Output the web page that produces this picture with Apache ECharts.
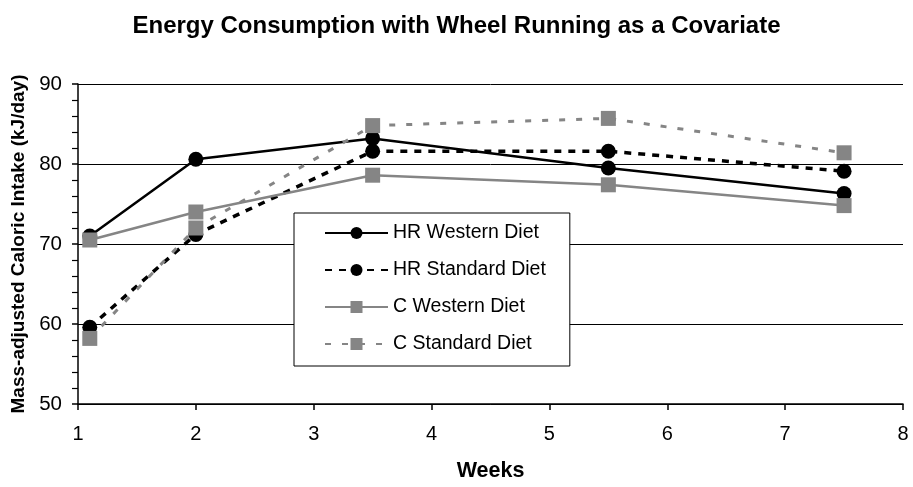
<!DOCTYPE html>
<html>
<head>
<meta charset="utf-8">
<script src="https://cdn.jsdelivr.net/npm/echarts@6/dist/echarts.min.js"></script>
<style>
  html, body { margin: 0; padding: 0; background: #fff; }
  #chart { width: 913px; height: 487px; }
</style>
</head>
<body>
<div id="chart"></div>
<script>
// weeks at which intake was measured
var weeks = [1.1, 2, 3.5, 5.5, 7.5]
var hrWestern = [71.0, 80.6, 83.2, 79.5, 76.3]
var hrStandard = [59.6, 71.2, 81.6, 81.6, 79.1]
var cWestern = [70.5, 74.0, 78.6, 77.4, 74.8]
var cStandard = [58.2, 72.0, 84.8, 85.7, 81.4]

var font = '"Liberation Sans", Arial, sans-serif'

function pairs(vals) {
  return vals.map(function(v, i) { return [weeks[i], v] })
}

function makeSeries(name, vals, color, symbol, dash, width) {
  return {
    name: name,
    type: 'line',
    data: pairs(vals),
    symbol: symbol,
    symbolSize: 15,
    showSymbol: true,
    itemStyle: { color: color, opacity: 1 },
    lineStyle: { color: color, width: width, type: dash },
    emphasis: { disabled: true }
  }
}

var chart = echarts.init(document.getElementById('chart'))
chart.setOption({
  animation: false,
  textStyle: { fontFamily: font },
  title: {
    text: 'Energy Consumption with Wheel Running as a Covariate',
    left: 'center',
    top: 9,
    textStyle: { fontSize: 24, fontWeight: 'bold', color: '#000', fontFamily: font }
  },
  legend: {
    orient: 'vertical',
    left: 294,
    top: 213,
    padding: [10, 24, 12, 30],
    itemWidth: 63,
    itemHeight: 15,
    itemGap: 17,
    backgroundColor: '#fff',
    borderColor: '#000',
    borderWidth: 1,
    borderRadius: 0,
    textStyle: { fontSize: 19.5, color: '#000', fontFamily: font },
    data: ['HR Western Diet', 'HR Standard Diet', 'C Western Diet', 'C Standard Diet']
  },
  grid: { left: 78, right: 10, top: 84, bottom: 78 },
  xAxis: {
    type: 'value',
    min: 1,
    max: 8,
    interval: 1,
    name: 'Weeks',
    nameLocation: 'middle',
    nameGap: 56,
    nameTextStyle: { fontSize: 21.5, fontWeight: 'bold', color: '#000', fontFamily: font },
    axisLine: { lineStyle: { color: '#000', width: 1.5 } },
    axisTick: { show: true, length: 6, lineStyle: { color: '#000', width: 1.5 } },
    axisLabel: { fontSize: 20, color: '#000', margin: 20, fontFamily: font },
    splitLine: { show: false }
  },
  yAxis: {
    type: 'value',
    min: 50,
    max: 90,
    interval: 10,
    name: 'Mass-adjusted Caloric Intake (kJ/day)',
    nameLocation: 'middle',
    nameGap: 49,
    nameTextStyle: { fontSize: 19, fontWeight: 'bold', color: '#000', fontFamily: font },
    axisLine: { show: true, lineStyle: { color: '#000', width: 1.5 } },
    axisTick: { show: true, length: 6, lineStyle: { color: '#000', width: 1.5 } },
    minorTick: { show: true, splitNumber: 5, length: 6, lineStyle: { color: '#000', width: 1.2 } },
    axisLabel: { fontSize: 20.5, color: '#000', margin: 16, fontFamily: font },
    splitLine: { show: true, lineStyle: { color: '#000', width: 1 } }
  },
  series: [
    makeSeries('HR Western Diet', hrWestern, '#000', 'circle', 'solid', 2.5),
    makeSeries('HR Standard Diet', hrStandard, '#000', 'circle', [7, 7], 3.5),
    makeSeries('C Western Diet', cWestern, '#858585', 'rect', 'solid', 2.5),
    makeSeries('C Standard Diet', cStandard, '#858585', 'rect', [6, 11], 3)
  ]
})
</script>
</body>
</html>
